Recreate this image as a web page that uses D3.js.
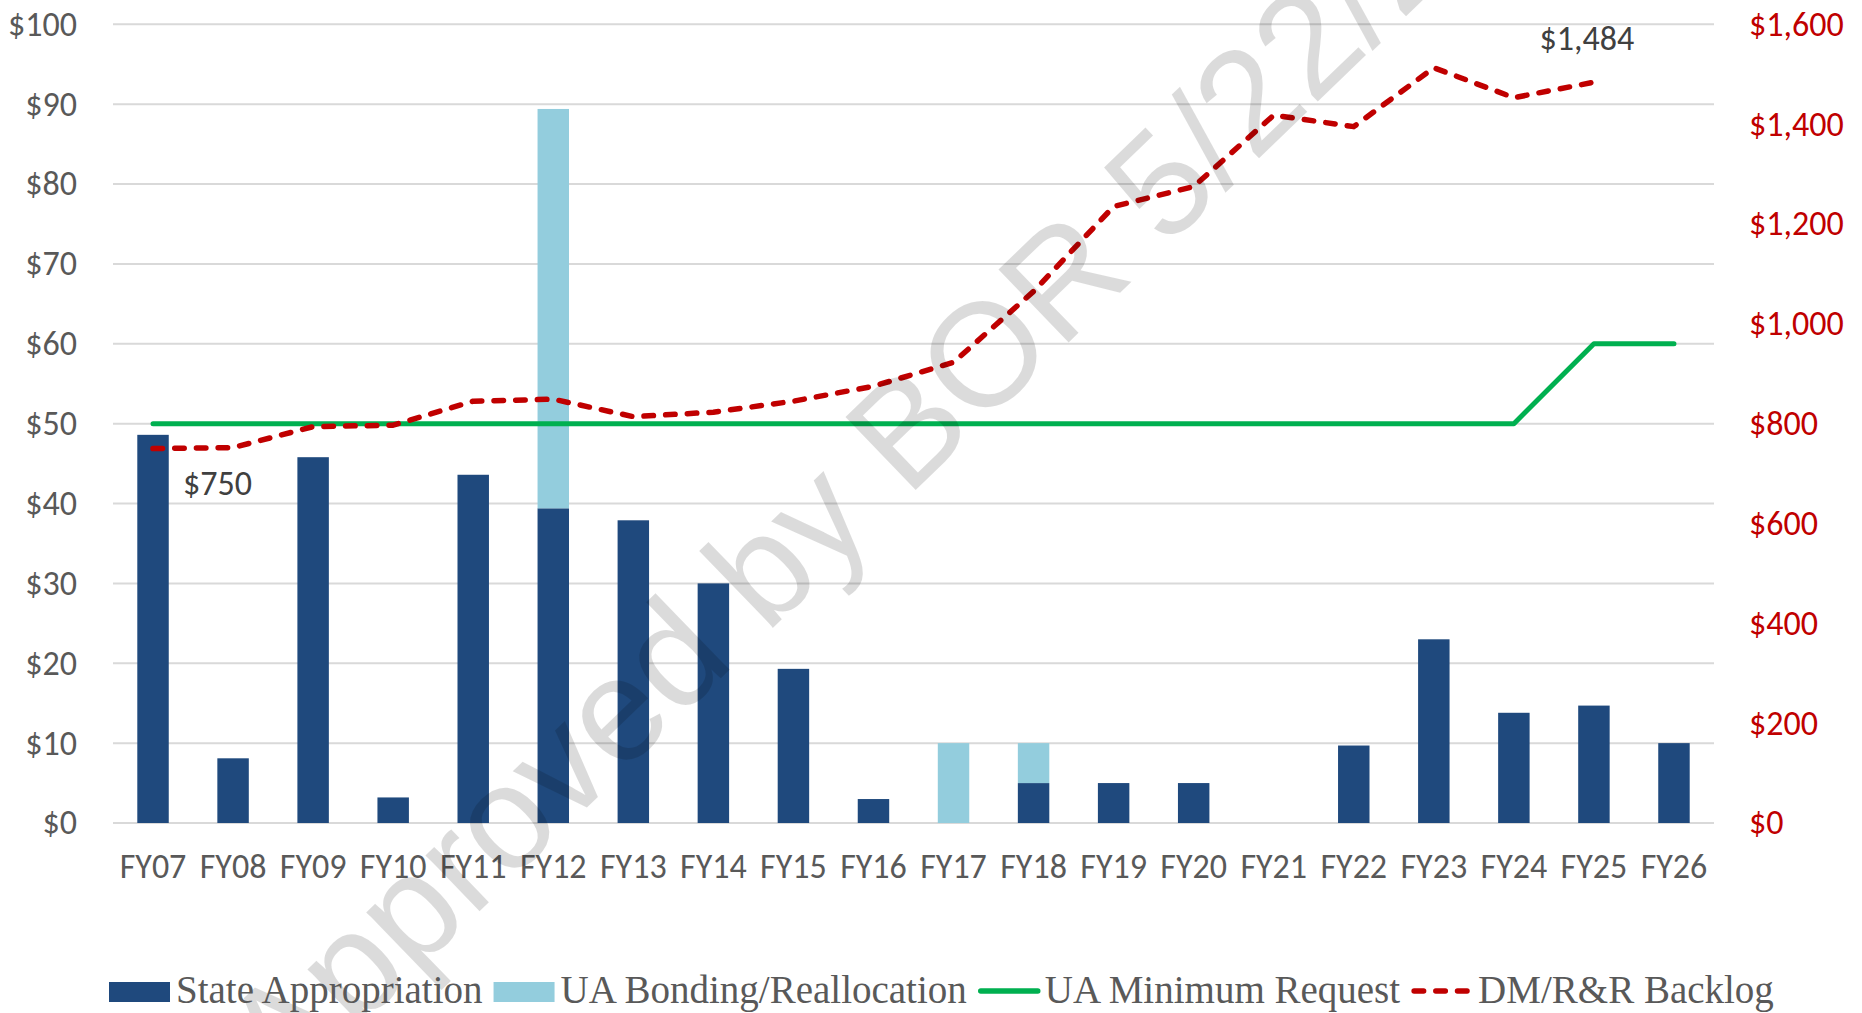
<!DOCTYPE html>
<html>
<head>
<meta charset="utf-8">
<script src="https://cdn.jsdelivr.net/npm/d3@7"></script>
<style>
  body { margin: 0; background: #fff; }
  svg { display: block; }
</style>
</head>
<body>
<svg id="chart" width="1862" height="1013"></svg>
<script>
// chart data
let categories = ['FY07', 'FY08', 'FY09', 'FY10', 'FY11', 'FY12', 'FY13', 'FY14', 'FY15', 'FY16',
  'FY17', 'FY18', 'FY19', 'FY20', 'FY21', 'FY22', 'FY23', 'FY24', 'FY25', 'FY26']
let stateAppropriation = [48.6, 8.1, 45.8, 3.2, 43.6, 39.4, 37.9, 30.0, 19.3, 3.0,
  0, 5.0, 5.0, 5.0, 0, 9.7, 23.0, 13.8, 14.7, 10.0]
let uaBonding = [0, 0, 0, 0, 0, 50.0, 0, 0, 0, 0,
  10.0, 5.0, 0, 0, 0, 0, 0, 0, 0, 0]
let minimumRequest = [50, 50, 50, 50, 50, 50, 50, 50, 50, 50,
  50, 50, 50, 50, 50, 50, 50, 50, 60, 60]
let backlog = [750, 752, 794, 797, 845, 849, 814, 823, 845, 875,
  923, 1065, 1235, 1275, 1418, 1395, 1513, 1453, 1484, null]
let leftTicks = [0, 10, 20, 30, 40, 50, 60, 70, 80, 90, 100]
let rightTicks = [0, 200, 400, 600, 800, 1000, 1200, 1400, 1600]
let legendLabels = ['State Appropriation', 'UA Bonding/Reallocation', 'UA Minimum Request', 'DM/R&R Backlog']

let svg = d3.select('#chart')
let plotLeft = 113
let plotRight = 1714
let plotTop = 24.3
let plotBottom = 823

let sansFont = 'Carlito, Calibri, Lato, sans-serif'
let serifFont = '"Liberation Serif", "Times New Roman", serif'
let markFont = '"Liberation Sans", Arial, sans-serif'

let x = d3.scaleBand()
  .domain(categories)
  .range([plotLeft, plotRight])
  .paddingInner(0.607)
  .paddingOuter(0.3035)

let yLeft = d3.scaleLinear().domain([0, 100]).range([plotBottom, plotTop])
let yRight = d3.scaleLinear().domain([0, 1600]).range([plotBottom, plotTop])

let center = (c) => x(c) + x.bandwidth() / 2

// gridlines
svg.append('g')
  .selectAll('line')
  .data(leftTicks)
  .enter()
  .append('line')
  .attr('x1', plotLeft)
  .attr('x2', plotRight)
  .attr('y1', (d) => yLeft(d))
  .attr('y2', (d) => yLeft(d))
  .attr('stroke', '#d9d9d9')
  .attr('stroke-width', 2)

// left axis
let leftAxis = svg.append('g')
  .attr('transform', 'translate(' + (plotLeft - 33) + ',0)')
  .call(d3.axisLeft(yLeft).tickValues(leftTicks).tickSize(0).tickFormat((d) => '$' + d))
leftAxis.select('.domain').remove()
leftAxis.selectAll('text')
  .attr('font-family', sansFont)
  .attr('font-size', 34)
  .attr('fill', '#595959')

// right axis
let rightAxis = svg.append('g')
  .attr('transform', 'translate(' + (plotRight + 32) + ',0)')
  .call(d3.axisRight(yRight).tickValues(rightTicks).tickSize(0).tickFormat(d3.format('$,')))
rightAxis.select('.domain').remove()
rightAxis.selectAll('text')
  .attr('font-family', sansFont)
  .attr('font-size', 34)
  .attr('fill', '#c00000')

// x labels
svg.append('g')
  .selectAll('text')
  .data(categories)
  .enter()
  .append('text')
  .attr('x', (d) => center(d))
  .attr('y', 878)
  .attr('text-anchor', 'middle')
  .attr('font-family', sansFont)
  .attr('font-size', 34)
  .attr('fill', '#595959')
  .text((d) => d)

// stacked bars
let rows = categories.map((c, i) => ({ cat: c, state: stateAppropriation[i], bond: uaBonding[i] }))
let stack = d3.stack().keys(['state', 'bond'])(rows)
let barColors = { state: '#1f497d', bond: '#93cddd' }

svg.append('g')
  .selectAll('g')
  .data(stack)
  .enter()
  .append('g')
  .attr('fill', (s) => barColors[s.key])
  .selectAll('rect')
  .data((s) => s.filter((d) => d[1] - d[0] > 0))
  .enter()
  .append('rect')
  .attr('x', (d) => x(d.data.cat))
  .attr('width', x.bandwidth())
  .attr('y', (d) => yLeft(d[1]))
  .attr('height', (d) => yLeft(d[0]) - yLeft(d[1]))

// minimum request line
let greenLine = d3.line()
  .x((d, i) => center(categories[i]))
  .y((d) => yLeft(d))

svg.append('path')
  .datum(minimumRequest)
  .attr('d', greenLine)
  .attr('fill', 'none')
  .attr('stroke', '#00b050')
  .attr('stroke-width', 5)
  .attr('stroke-linecap', 'round')
  .attr('stroke-linejoin', 'round')

// backlog line
let redLine = d3.line()
  .defined((d) => d !== null)
  .x((d, i) => center(categories[i]))
  .y((d) => yRight(d))

svg.append('path')
  .datum(backlog)
  .attr('d', redLine)
  .attr('fill', 'none')
  .attr('stroke', '#c00000')
  .attr('stroke-width', 5.5)
  .attr('stroke-linecap', 'round')
  .attr('stroke-linejoin', 'round')
  .attr('stroke-dasharray', '9.5,12.2')

// data labels
svg.append('text')
  .attr('x', center('FY07') + 30)
  .attr('y', yRight(backlog[0]) + 46.5)
  .attr('font-family', sansFont)
  .attr('font-size', 34)
  .attr('fill', '#404040')
  .text('$' + d3.format(',')(backlog[0]))

svg.append('text')
  .attr('x', center('FY25') - 7)
  .attr('y', yRight(backlog[18]) - 32)
  .attr('text-anchor', 'middle')
  .attr('font-family', sansFont)
  .attr('font-size', 34)
  .attr('fill', '#404040')
  .text('$' + d3.format(',')(backlog[18]))

// watermark
svg.append('text')
  .attr('transform', 'translate(284,1100) rotate(-44)')
  .attr('font-family', markFont)
  .attr('font-size', 147)
  .attr('fill', '#000')
  .attr('fill-opacity', 0.14)
  .text('Approved by BOR 5/22/2025')

// legend
let legend = svg.append('g').attr('transform', 'translate(109,0)')
let cursor = 0
legendLabels.forEach((label, i) => {
  let g = legend.append('g').attr('transform', 'translate(' + cursor + ',0)')
  if (i < 2) {
    g.append('rect')
      .attr('x', 0)
      .attr('y', 982)
      .attr('width', 61)
      .attr('height', 20)
      .attr('fill', i === 0 ? barColors.state : barColors.bond)
  } else {
    g.append('line')
      .attr('x1', 3)
      .attr('x2', 60)
      .attr('y1', 991)
      .attr('y2', 991)
      .attr('stroke', i === 2 ? '#00b050' : '#c00000')
      .attr('stroke-width', 5.5)
      .attr('stroke-linecap', 'round')
      .attr('stroke-dasharray', i === 3 ? '9.5,12.2' : null)
  }
  let t = g.append('text')
    .attr('x', 67)
    .attr('y', 1003)
    .attr('font-family', serifFont)
    .attr('font-size', 39)
    .attr('fill', '#595959')
    .text(label)
  cursor += 67 + t.node().getComputedTextLength() + 11
})
</script>
</body>
</html>
